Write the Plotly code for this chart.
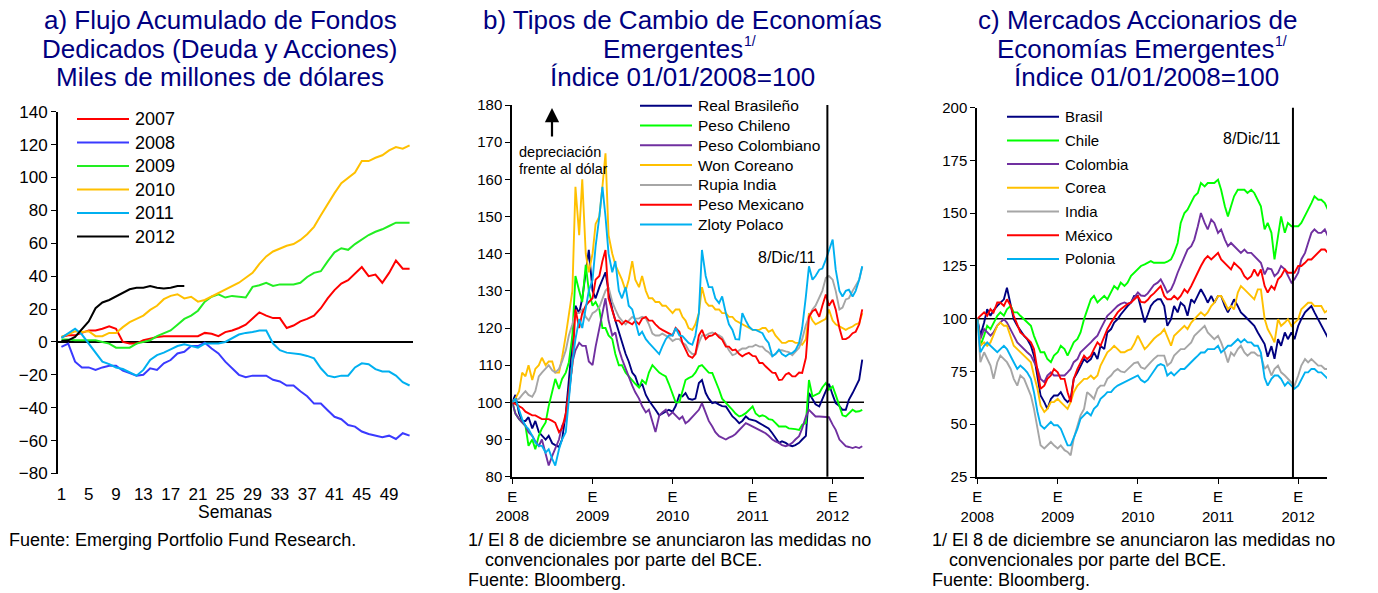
import plotly.graph_objects as go
import pandas as pd

W, H = 1378, 593
FONT = "Liberation Sans, Arial, sans-serif"
TITLE_COLOR = "#000080"

# ---------------- Panel a: weekly cumulative flows ----------------
weeks = list(range(1, 53))
flow_names = ["2007", "2008", "2009", "2010", "2011", "2012"]
flow_colors = ["#ff0000", "#3a3aff", "#22ee22", "#ffc000", "#00b0f0", "#000000"]
f2007 = [3, 4, 4, 5.5, 7, 7, 8, 9.5, 8, 0, -1, -1, 1, 2, 3, 3.5, 3.5, 3.5, 3.5, 3.5, 3.5, 5.5, 5, 3.5, 6, 7,
         8.5, 10.5, 14, 18, 16, 14.5, 14.5, 8.5, 10, 12.5, 14, 16, 20.5, 26.5, 31.5, 35.5, 37.5, 41.5, 45.5,
         40, 41, 36, 42, 49.5, 44.5, 44.5]
f2008 = [-3, -1, -12, -15.5, -15.5, -17, -15.5, -14.5, -14.5, -17.5, -19, -20.5, -20, -16, -17, -13, -11, -7,
         -6, -2.5, -2.5, -0.5, -4, -7, -12, -16, -20, -21.5, -20.5, -20.5, -20.5, -23, -24, -26.5, -26.5, -30,
         -33, -37.5, -37.5, -41.5, -45.5, -47, -50.5, -51.5, -54.5, -56, -57, -58, -57, -59, -55.5, -57]
f2009 = [1.5, 1.5, 1, 1, 1, 1, 0, -1, -3.5, -3.5, -3.5, -1, 0, 1, 3.5, 5.5, 7, 10.5, 14, 16, 19, 24.5, 27.5,
         29, 27, 28, 27.5, 27, 33.5, 34.5, 36, 34, 35, 35, 35, 36, 39.5, 42, 43, 49, 54.5, 57, 56, 59.5, 62.5,
         65, 67, 68.5, 70.5, 72.5, 72.5, 72.5]
f2010 = [3, 5, 6.5, 6, 6.5, 3.5, 3.5, 5.5, 5.5, 9, 12, 14, 16, 19.5, 22, 26, 28, 29, 26.5, 27.5, 24.5, 25.5,
         27.5, 29.5, 32, 34, 36, 39, 42, 47.5, 52, 55, 57, 58.5, 59.5, 62, 65.5, 70, 77, 84, 90.5, 96.5, 100,
         103, 110, 110, 112, 113.5, 116.5, 118.5, 117.5, 119.5]
f2011 = [2.5, 5.5, 8, 4.5, -1, -6, -12, -13.5, -15.5, -16.5, -18.5, -20.5, -17, -11, -8, -6.5, -4.5, -2.5,
         -1.5, -2.5, -3.5, -1, -1, -1, 0, 2, 4.5, 5.5, 6, 7, 7, -1, -5, -6.5, -7, -7.5, -8.5, -10, -16, -20.5,
         -21.5, -20.5, -20.5, -15.5, -13, -13.5, -16.5, -18, -18, -20.5, -24.5, -26.5]
f2012 = [0.5, 1, 3, 8, 12.5, 20.5, 24, 25.5, 27.5, 29.5, 32, 33, 33, 34, 33, 32.5, 33, 34, 34]
flow_values = [f2007, f2008, f2009, f2010, f2011, f2012]
week_ticks = list(range(1, 50, 4))

# ---------------- Panel b: exchange rates (semi-monthly readings) ----------------
fx_names = ["Real Brasileño", "Peso Chileno", "Peso Colombiano", "Won Coreano",
            "Rupia India", "Peso Mexicano", "Zloty Polaco"]
real = [100, 102, 97, 95, 95, 96, 93, 95, 92, 91, 90, 91, 89, 88.5, 88, 90, 97, 106, 118, 126, 124, 128, 135,
        141, 130, 128, 131, 133, 135, 130, 125, 122, 119, 116, 113, 111, 108, 107, 104, 105, 102, 100.5, 99,
        98, 96.5, 97, 97.5, 98, 97.5, 99, 102, 101.6, 102.5, 101, 100.7, 101, 105.2, 106, 102.5, 101, 99.8,
        100, 99.4, 99, 98.9, 97.5, 96.2, 95.5, 94.4, 95, 96.2, 95.5, 95.3, 95, 94.4, 94, 93.5, 93, 91.7, 90.5,
        89.1, 89.5, 89.1, 88.5, 88.2, 88.5, 89.1, 90, 91, 102.5, 100.7, 99.5, 98.9, 101, 103.4, 105, 102,
        99.8, 99, 98, 98, 100.7, 102.5, 104, 106.1, 111.5]
chileno = [100, 97, 95.5, 94.5, 93.7, 88.3, 90, 87.4, 91, 93, 94.6, 99, 102.7, 106.3, 103.6, 106.3, 108,
           110.8, 118, 134, 130, 127, 137, 130, 126, 127, 125, 120, 120, 118, 117, 113, 110, 110, 108, 107,
           106, 105, 104, 106, 105, 108, 110, 109, 108, 107.5, 107, 105, 102, 100, 100, 103, 106, 106.5, 107,
           108, 109.7, 110, 108.8, 108, 107.9, 106, 103.4, 101, 99.8, 99, 98, 97, 96.2, 96.5, 97.1, 98, 98.9,
           97, 96.2, 96.5, 96.2, 95.5, 95.3, 94.5, 93.5, 93.5, 93.5, 93, 93, 92.8, 92.6, 94, 94.4, 106, 101.6,
           102, 102.5, 104, 105.2, 103.4, 104.3, 102, 98.9, 96.5, 96.2, 97, 98, 97.5, 97.6, 98]
colombiano = [100, 97, 95.5, 94.5, 93.7, 92, 91, 89.5, 88.3, 90, 86.5, 83, 85.6, 87.4, 90, 93.7, 95.5, 101.8,
              110.8, 114, 116, 115.2, 115.2, 111, 110, 115, 120, 124, 128, 122, 118, 118.8, 114.3, 111.7, 109,
              107.2, 104.5, 102.7, 101, 99, 97.3, 98, 94.6, 92, 96.4, 97.3, 98, 96.4, 97.3, 96.5, 95.5, 96.2,
              94.4, 95, 96.2, 97, 98, 99.8, 97.1, 95, 93.5, 92, 90.9, 90.5, 90, 90.5, 90.9, 91.5, 92.6, 93.5,
              94.4, 94, 93.5, 93, 92.6, 92, 91.7, 91, 90, 89.5, 89.1, 88.5, 88.2, 88.5, 89.1, 90, 90.9, 93,
              96.2, 98, 97, 96.2, 96.2, 96.2, 96.2, 96, 94, 92.6, 90, 89, 88.2, 88, 87.7, 88, 87.7, 88.2]
won = [100, 101, 103, 108, 107, 110, 106, 109, 110, 112, 110, 111, 111, 108, 108, 112, 118, 124, 130, 158,
       145, 160, 140, 135, 140, 148, 150, 158, 167, 145, 140, 137, 135, 133, 130, 133, 138, 133, 131, 134,
       130, 128, 128, 127, 127, 126, 126, 125, 124, 125, 125, 123, 122, 120, 119.5, 121, 124, 131, 127, 126,
       126, 125, 125, 124, 124, 123, 123, 122, 121.5, 121, 120.4, 120, 119.5, 119.5, 119.5, 120, 120, 119,
       119.5, 118, 117, 116, 116, 116.5, 116.5, 116, 116, 115.5, 117, 124, 122, 121, 121.5, 122, 122.5, 125,
       122, 121, 120.4, 120, 119.5, 120, 120.4, 121, 121.3, 124]
rupia = [100, 100.5, 101, 102, 103, 102, 101.5, 103, 107, 108, 109, 110, 108.6, 108, 109, 111, 114, 118, 121,
         124, 124, 125, 123, 122, 124, 124.5, 125.6, 128, 130, 131, 127, 125, 123, 122, 121, 122, 123, 122.5,
         122.6, 123, 122.6, 121, 118.5, 118, 118, 118.5, 118, 117.5, 116.5, 117, 117, 116, 115.5, 114, 113,
         113, 116, 118, 118, 118.5, 118.8, 118.5, 118, 117.5, 115.5, 114, 112.7, 113, 114, 114.5, 114.5, 115,
         115, 115.5, 115, 115, 114, 113.5, 112.4, 113, 114, 114, 113.7, 113.5, 112.7, 113.5, 114.7, 117,
         120.8, 123, 125, 126, 128, 130, 133.5, 134, 133, 130, 125, 125.5, 127.7, 128, 130, 131.5, 133, 136.5]
mexicano = [100, 99.5, 99, 98.5, 97.5, 97, 96.5, 96.5, 96, 95.5, 95.5, 95.5, 95, 94.5, 92, 93, 97, 103, 110,
            125, 120, 124, 126, 127, 128, 133, 134, 138, 141, 128, 125, 122, 122, 121, 122, 121.5, 121, 122,
            121, 122.5, 123, 122, 122, 121, 120, 119.5, 119, 118.5, 118, 120, 119, 116, 114, 112.5, 112, 113,
            118, 119.5, 117, 117.8, 118, 118.6, 117.5, 116.9, 115, 115, 114, 114.2, 113, 112.4, 113, 113.3,
            112.5, 112.4, 110.6, 110.6, 109.7, 109, 108, 107.9, 106, 106.1, 107.5, 107.9, 107, 107, 108, 107.9,
            112, 123, 124.5, 125, 123, 126, 129, 126, 127.6, 125, 120, 117, 117, 117.5, 118.6, 119, 121, 125]
zloty = [100, 101, 98, 95.5, 93.7, 92.8, 91, 89.2, 88.3, 88.3, 86.5, 87.4, 84.8, 83, 87.4, 90, 92, 101.8,
         110.8, 117, 122.4, 120, 125, 130, 133, 142, 150, 158, 150, 140, 135, 138, 130, 128, 131, 126, 125, 122,
         118, 119, 117, 116, 115, 114, 113, 115, 117, 118, 118, 120, 118, 117.8, 116.9, 116, 115.5, 118, 124,
         141, 134, 131, 131, 128, 126.7, 128.5, 124, 121, 119.5, 117, 116.9, 124, 122, 120.4, 119.5, 119.5,
         119, 118.6, 117, 116, 112.4, 113, 114.2, 113, 112.4, 113, 113.3, 114, 116, 120, 128.5, 136.6, 133,
         134, 135.7, 136, 138.4, 141, 143.8, 135.7, 130, 128.5, 130, 130.3, 128.5, 130, 133, 136.6]
fx_values = [real, chileno, colombiano, won, rupia, mexicano, zloty]

# ---------------- Panel c: stock markets (semi-monthly readings) ----------------
eq_names = ["Brasil", "Chile", "Colombia", "Corea", "India", "México", "Polonia"]
brasil = [100, 92, 98.2, 104.5, 101.4, 104, 106.1, 107.7, 109.2, 114.7, 106.1, 99.8, 96.7, 94.3, 91.9, 90.4,
          87.2, 82.5, 71.5, 63.6, 60.5, 57.3, 62, 63.6, 63.6, 65.2, 62, 60.5, 62, 71.5, 74.6, 77.8, 80.9, 79.4,
          80.9, 84.1, 80.9, 87.2, 85.6, 93.5, 95.1, 98.2, 99.8, 102, 104.5, 106, 107.7, 110.8, 110.8, 105, 98.2,
          102, 106.1, 108, 109.2, 109.2, 106, 96.6, 99.8, 106, 103, 107.6, 106, 101.4, 109.2, 107.6, 110.8, 114,
          110.8, 107.6, 110.8, 107.6, 110.8, 110.8, 106, 103, 106, 109.2, 106, 103, 101.4, 99.8, 98.2, 96.6,
          93.5, 91, 88, 82, 87, 81, 90.3, 87.2, 93.5, 90.3, 93.5, 90.3, 96.6, 99.8, 103, 104.5, 106, 103, 99.8,
          96.6, 93.5, 91]
chile = [100, 87.2, 92, 96.7, 95.1, 98.2, 101.4, 103, 101.4, 104.5, 106.1, 103, 103, 101.4, 99.8, 98.2, 96.7,
         91.9, 87.2, 84.1, 84.1, 80.9, 79.4, 82.5, 84.1, 87.2, 85.6, 82.5, 85.6, 88.8, 90.4, 93.5, 99.8, 104.5,
         109.2, 110.8, 107.7, 109.2, 110.8, 109.2, 112.4, 115.5, 114, 117.1, 115.5, 117.1, 120.3, 121.8, 123.4,
         125, 125.8, 126.5, 127.3, 126.5, 126.5, 126.5, 126.5, 127, 128.1, 131.2, 135.9, 145.4, 150.1, 151.7,
         154.8, 158, 159.6, 164.3, 162.7, 164.3, 164.3, 164.3, 165.9, 161.1, 153.3, 148.5, 153.3, 158, 161.1,
         161.1, 161.1, 159.6, 161.1, 159.6, 156.4, 153.3, 142.3, 145.4, 140.7, 128.1, 139.1, 148.5, 140.7,
         145.4, 143.8, 143.8, 143.8, 145.4, 148.5, 151.7, 154.8, 158, 156.4, 156.4, 154.8, 151.7]
colombia = [100, 90.4, 95.1, 93.5, 92, 93.5, 96.7, 98.2, 99.8, 98.2, 95.1, 92, 88.8, 87.2, 85.6, 84.1, 82.5,
            79.4, 76.2, 71.5, 69.9, 73.1, 74.6, 73.1, 73.1, 73.1, 73.1, 74.6, 76.2, 79.4, 80.9, 84.1, 85.6,
            87.2, 88.8, 90.4, 92, 95.1, 98.2, 101.4, 103, 104.5, 106.1, 107, 107.7, 107, 107.7, 110, 112.4,
            111, 110.8, 112, 114, 116, 117.1, 118.7, 115.5, 112.4, 113.9, 117.1, 121.8, 125, 129.7, 132.8,
            134.4, 137.5, 143.8, 150.1, 145.4, 142.3, 147, 145.4, 140.7, 142.3, 137.5, 134.4, 135.9, 134.4,
            132.8, 131.2, 132.8, 131.2, 131.2, 129.7, 128.1, 126.5, 121, 124, 123.4, 120.2, 121.8, 125, 123.4,
            120.2, 117.1, 118.7, 121.8, 128.1, 131.2, 135.9, 140.7, 142.3, 140.7, 140.7, 142.3, 139.1]
corea = [100, 87.2, 88.8, 87.2, 88.8, 92, 96.7, 98.2, 96.7, 96.7, 92, 87.2, 85.6, 84.1, 82.5, 80.9, 79.4, 73.1,
         66.8, 58.9, 55.8, 57.3, 60.5, 60.5, 62, 60.5, 58.9, 57.3, 60.5, 65.2, 68.3, 69.9, 71.5, 71.5, 73.1,
         71.5, 73.1, 77.8, 80.9, 84.1, 85.6, 87.2, 85.6, 84.1, 84.1, 85, 85.6, 88, 92, 88.8, 85.6, 87, 88.8,
         90.5, 92, 93, 95.1, 91.9, 87.2, 91.9, 93.5, 95.1, 96.6, 95.1, 98.2, 99.8, 101.4, 103, 101.4, 103, 106,
         107.6, 110.8, 110.8, 107.6, 104.5, 106, 104.5, 112.4, 115.5, 113.9, 112.4, 110.8, 109.2, 113.9, 113.9,
         100, 95.1, 91.9, 88.8, 99.8, 96.6, 98.2, 99.8, 96.6, 98.2, 99.8, 104.5, 106, 107.6, 107.6, 106, 106,
         106, 103, 104]
india = [100, 79.4, 84.1, 80.9, 77.8, 71.5, 79.4, 82.5, 80.9, 79.4, 76.2, 71.5, 68.3, 73.1, 71.5, 68.3, 63.6,
         57.3, 47.9, 40, 38.5, 40, 41.6, 40, 38.5, 40, 37.7, 36.9, 35.3, 43.2, 49.5, 54.2, 57.3, 65.2, 63.6, 62,
         66.8, 68.3, 68.3, 71.5, 73.1, 75, 76.2, 75, 74.6, 76, 77.8, 79, 79.4, 77, 76.2, 78, 79.4, 81, 82.5,
         82.5, 82.5, 77.8, 79.3, 82.5, 84, 85.6, 85.6, 87.2, 88.8, 91.9, 93.5, 95.1, 96.6, 93.5, 91.9, 90.3,
         91.9, 88.8, 84, 79.3, 84, 82.5, 85.6, 87.2, 84, 82.5, 84, 84, 82.5, 82.5, 76.2, 77.8, 73.1, 76.2, 77.8,
         74.6, 73.1, 71.5, 70, 68.3, 73.1, 77.8, 80.9, 79.3, 80.9, 79.3, 77.8, 77.8, 76.2, 76.2]
mexico = [100, 101.4, 103, 101.4, 104.5, 103, 107.7, 107.7, 106.1, 109.2, 106.1, 101.4, 96.7, 93.5, 92, 90.4,
          88.8, 85.6, 76.2, 66.8, 68.3, 71.5, 73.1, 76.2, 74.6, 71.5, 71.5, 65.2, 60.5, 71.5, 76.2, 79.4, 82.5,
          80.9, 82.5, 85.6, 88.8, 87.2, 92, 95.1, 98.2, 100.5, 103, 104.5, 106.1, 107, 107.7, 109, 110.8, 108,
          107.7, 109, 110.8, 112, 114, 115.5, 110.8, 109.2, 109.2, 110.8, 109.2, 110.8, 113.9, 112.4, 115.5,
          118.7, 121.8, 125, 128.1, 129.7, 128.1, 129.7, 131.2, 128.1, 126.5, 125, 123.4, 126.5, 125, 123.4,
          120.2, 118.7, 120.2, 123.4, 120.2, 123.4, 115.5, 112.4, 115.5, 113.9, 118.7, 120.2, 123.4, 121.8,
          121.8, 121.8, 125, 125, 126.5, 128.1, 128.1, 129.7, 131.2, 132.8, 132.8, 131.2]
polonia = [100, 84.1, 87.2, 88.8, 87.2, 85.6, 84.1, 85.6, 87.2, 85.6, 82.5, 79.4, 76.2, 77.8, 76.2, 74.6, 71.5,
           65.2, 55.8, 49.5, 47.9, 49.5, 51.1, 49.5, 49.5, 47.9, 43.2, 40, 40, 43.2, 47.9, 52.6, 54.2, 55.8,
           54.2, 57.3, 58.9, 62, 63.6, 65.2, 65.2, 67, 68.3, 69, 69.9, 70.5, 71.5, 72, 73.1, 71, 69.9, 71, 73.1,
           75, 77.8, 78.5, 77.8, 73.1, 74.6, 73.1, 74.6, 76.2, 76.2, 77.8, 79.3, 80.9, 82.5, 84, 84, 85.6, 85.6,
           85.6, 87.2, 84, 85.6, 87.2, 87.2, 88.8, 90.3, 88.8, 90.3, 88.8, 88.8, 87.2, 87.2, 84, 72, 68.3, 71.5,
           73.1, 73.1, 71.5, 68.3, 70, 68.3, 66.8, 68.3, 71.5, 74.6, 74.6, 76.2, 76.2, 74.6, 74.6, 73.1, 71.5]
eq_values = [brasil, chile, colombia, corea, india, mexico, polonia]

country_colors = ["#000080", "#00ff00", "#7030a0", "#ffc000", "#a6a6a6", "#ff0000", "#00b0f0"]
year_ticks = ["2008-01-01", "2009-01-01", "2010-01-01", "2011-01-01", "2012-01-01"]
year_labels = ["E<br>2008", "E<br>2009", "E<br>2010", "E<br>2011", "E<br>2012"]
ecb_date = "2011-12-08"

dates = pd.date_range("2008-01-01", "2012-05-15", freq="SMS")


def px_x(x):
    return x / W


def px_y(y):
    return 1 - y / H


fig = go.Figure()

for name, vals, color in zip(flow_names, flow_values, flow_colors):
    fig.add_trace(go.Scatter(x=weeks[:len(vals)], y=vals, mode="lines", name=name,
                             line=dict(color=color, width=2), xaxis="x", yaxis="y", showlegend=False))
for name, vals, color in zip(fx_names, fx_values, country_colors):
    fig.add_trace(go.Scatter(x=dates[:len(vals)], y=vals, mode="lines", name=name,
                             line=dict(color=color, width=1.9), xaxis="x2", yaxis="y2", showlegend=False))
for name, vals, color in zip(eq_names, eq_values, country_colors):
    fig.add_trace(go.Scatter(x=dates[:len(vals)], y=vals, mode="lines", name=name,
                             line=dict(color=color, width=1.9), xaxis="x3", yaxis="y3", showlegend=False))


def axis(**kw):
    base = dict(showgrid=False, linecolor="black", linewidth=2, tickcolor="black", automargin=False,
                zeroline=False, tickfont=dict(family=FONT, size=15, color="black"))
    base.update(kw)
    return base


fig.update_layout(
    template="none",
    width=W, height=H,
    margin=dict(l=0, r=0, t=0, b=0, pad=0, autoexpand=False),
    paper_bgcolor="white", plot_bgcolor="white",
    font=dict(family=FONT, color="black"),
    showlegend=False,
    xaxis=axis(domain=[px_x(58), px_x(413)], range=[0.5, 52.5], tickvals=week_ticks,
               showline=False, ticks="", ticklabelstandoff=8,
               tickfont=dict(family=FONT, size=17, color="black"), anchor="y"),
    yaxis=axis(domain=[px_y(473.5), px_y(111.7)], range=[-80, 140], dtick=20,
               showline=True, ticks="outside", ticklen=5, zeroline=True, zerolinecolor="black",
               zerolinewidth=2, anchor="x", tickfont=dict(family=FONT, size=17, color="black")),
    xaxis2=axis(domain=[px_x(512.3), px_x(864)], type="date", range=["2008-01-01", "2012-05-23"],
                tickvals=year_ticks, ticktext=year_labels, showline=True, ticks="outside", ticklen=5,
                anchor="y2"),
    yaxis2=axis(domain=[px_y(476.7), px_y(105)], range=[80, 180], dtick=10, showline=True,
                ticks="outside", ticklen=5, anchor="x2"),
    xaxis3=axis(domain=[px_x(977.3), px_x(1327)], type="date", range=["2008-01-01", "2012-05-11"],
                tickvals=year_ticks, ticktext=year_labels, showline=True, ticks="outside", ticklen=5,
                anchor="y3"),
    yaxis3=axis(domain=[px_y(477), px_y(107.7)], range=[25, 200], dtick=25, showline=True,
                ticks="outside", ticklen=5, anchor="x3"),
)

shapes = []
# reference lines at 100 and ECB vertical line
for xa, ya in (("x2", "y2"), ("x3", "y3")):
    shapes.append(dict(type="line", xref=xa + " domain", yref=ya, x0=0, x1=1, y0=100, y1=100,
                       line=dict(color="black", width=1.5), layer="below"))
    shapes.append(dict(type="line", xref=xa, yref=ya + " domain", x0=ecb_date, x1=ecb_date, y0=0, y1=1,
                       line=dict(color="black", width=2)))

annotations = []


def add_text(text, x, y, size, color="black", xanchor="center"):
    annotations.append(dict(text=text, x=px_x(x), y=px_y(y), xref="paper", yref="paper",
                            xanchor=xanchor, yanchor="middle", showarrow=False,
                            font=dict(family=FONT, size=size, color=color)))


def add_legend(names, colors, x0, x1, y_start, step, size):
    for i, (n, c) in enumerate(zip(names, colors)):
        yy = y_start + i * step
        shapes.append(dict(type="line", xref="paper", yref="paper", x0=px_x(x0), x1=px_x(x1),
                           y0=px_y(yy), y1=px_y(yy), line=dict(color=c, width=2)))
        add_text(n, x1 + 4, yy, size, xanchor="left")


add_legend(flow_names, flow_colors, 77, 129, 119, 23.5, 18)
add_legend(fx_names, country_colors, 640, 692, 105.7, 19.8, 15.5)
add_legend(eq_names, country_colors, 1007, 1059, 116.7, 23.7, 15)

# titles
TS = 26
add_text("a) Flujo Acumulado de Fondos", 220, 20, TS, TITLE_COLOR)
add_text("Dedicados (Deuda y Acciones)", 220, 48.5, TS, TITLE_COLOR)
add_text("Miles de millones de dólares", 220, 77, TS, TITLE_COLOR)

add_text("b) Tipos de Cambio de Economías", 682, 20, TS, TITLE_COLOR)
add_text("Emergentes", 745, 48.5, TS, TITLE_COLOR, xanchor="right")
add_text("1/", 742, 41, 14, TITLE_COLOR, xanchor="left")
add_text("Índice 01/01/2008=100", 682, 77, TS, TITLE_COLOR)

add_text("c) Mercados Accionarios de", 1137, 20, TS, TITLE_COLOR)
add_text("Economías Emergentes", 1276, 48.5, TS, TITLE_COLOR, xanchor="right")
add_text("1/", 1273, 41, 14, TITLE_COLOR, xanchor="left")
add_text("Índice 01/01/2008=100", 1146, 77, TS, TITLE_COLOR)

add_text("Semanas", 235, 512, 17.5)
add_text("depreciación", 517, 152, 14.5, xanchor="left")
add_text("frente al dólar", 517, 169, 14.5, xanchor="left")
add_text("8/Dic/11", 787, 258, 16)
add_text("8/Dic/11", 1252, 138, 16)

annotations.append(dict(text="", x=px_x(552), y=px_y(108), xref="paper", yref="paper",
                        ax=0, ay=30, showarrow=True, arrowhead=2, arrowsize=1.3, arrowwidth=2.2,
                        arrowcolor="black"))

# footnotes
FS = 18
add_text("Fuente: Emerging Portfolio Fund Research.", 7, 540, FS, xanchor="left")
for x0 in (466, 930):
    add_text("1/ El 8 de diciembre se anunciaron las medidas no", x0, 540, FS, xanchor="left")
    add_text("convencionales por parte del BCE.", x0 + 17, 560, FS, xanchor="left")
    add_text("Fuente: Bloomberg.", x0, 580, FS, xanchor="left")

fig.update_layout(shapes=shapes, annotations=annotations)
fig.write_html("out.html", config={"displayModeBar": False},
               post_script="document.body.style.margin='0px';"
                           "document.body.style.overflow='hidden';")
